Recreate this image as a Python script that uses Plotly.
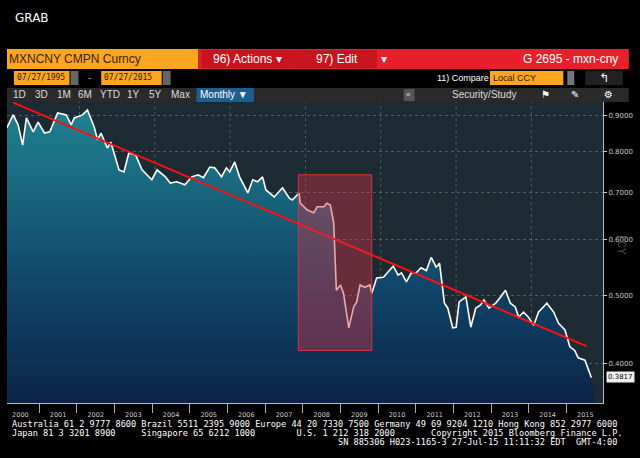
import numpy as np
import plotly.graph_objects as go

# MXN/CNY monthly close (decimal year, rate)
dates = [2000.14, 2000.31, 2000.44, 2000.56, 2000.66, 2000.84, 2000.97, 2001.14, 2001.28, 2001.49,
         2001.72, 2001.85, 2001.93, 2002.15, 2002.28, 2002.46, 2002.55, 2002.64, 2002.81, 2002.90,
         2003.12, 2003.25, 2003.38, 2003.56, 2003.73, 2003.99, 2004.13, 2004.35, 2004.48, 2004.65,
         2004.87, 2005.05, 2005.22, 2005.36, 2005.53, 2005.66, 2005.84, 2005.97, 2006.06, 2006.19,
         2006.32, 2006.54, 2006.67, 2006.80, 2006.93, 2007.02, 2007.24, 2007.46, 2007.64, 2007.72,
         2007.90, 2007.93, 2008.12, 2008.29, 2008.38, 2008.56, 2008.64, 2008.73, 2008.82, 2008.89,
         2009.00, 2009.08, 2009.22, 2009.35, 2009.43, 2009.52, 2009.65, 2009.78, 2009.83, 2009.96,
         2010.14, 2010.40, 2010.53, 2010.62, 2010.75, 2010.88, 2011.01, 2011.14, 2011.28, 2011.41,
         2011.54, 2011.63, 2011.76, 2011.85, 2011.98, 2012.07, 2012.15, 2012.33, 2012.46, 2012.59,
         2012.72, 2012.81, 2012.94, 2013.12, 2013.25, 2013.38, 2013.51, 2013.64, 2013.73, 2013.86,
         2013.99, 2014.13, 2014.26, 2014.48, 2014.66, 2014.79, 2014.96, 2015.09, 2015.22, 2015.31,
         2015.49, 2015.66]
rates = [0.865, 0.903, 0.874, 0.818, 0.894, 0.854, 0.882, 0.851, 0.854, 0.909,
         0.903, 0.874, 0.894, 0.903, 0.918, 0.868, 0.832, 0.851, 0.810, 0.826,
         0.754, 0.749, 0.797, 0.792, 0.754, 0.730, 0.754, 0.737, 0.722, 0.725,
         0.718, 0.737, 0.742, 0.735, 0.761, 0.759, 0.737, 0.759, 0.749, 0.774,
         0.737, 0.699, 0.730, 0.725, 0.737, 0.706, 0.690, 0.711, 0.687, 0.683,
         0.699, 0.676, 0.661, 0.655, 0.668, 0.668, 0.676, 0.672, 0.633, 0.508,
         0.517, 0.503, 0.449, 0.481, 0.489, 0.517, 0.513, 0.517, 0.503, 0.529,
         0.530, 0.550, 0.534, 0.538, 0.522, 0.538, 0.538, 0.547, 0.542, 0.566,
         0.548, 0.555, 0.487, 0.479, 0.449, 0.450, 0.489, 0.497, 0.450, 0.479,
         0.484, 0.492, 0.479, 0.487, 0.497, 0.508, 0.487, 0.481, 0.465, 0.473,
         0.465, 0.453, 0.473, 0.487, 0.473, 0.456, 0.446, 0.422, 0.417, 0.407,
         0.404, 0.3817]

trend_x = [2000.31, 2015.53]
trend_y = [0.940, 0.423]

box_x = [2007.88, 2009.83]
box_y = [0.417, 0.742]

years = list(range(2000, 2016))
y_ticks = [0.4, 0.5, 0.6, 0.7, 0.8, 0.9]

X0, X1 = 2000.145, 2015.97
Y0, Y1 = 0.351, 0.942

fig = go.Figure()
fig.add_trace(go.Scatter(x=[X0, X1], y=[0.3, 0.3], mode="lines",
                         line=dict(width=0), hoverinfo="skip", showlegend=False))
fig.add_trace(go.Scatter(x=dates, y=rates, mode="lines", fill="tonexty",
                         line=dict(color="white", width=1.6),
                         fillgradient=dict(type="vertical",
                                           colorscale=[[0, "#0a1638"], [0.45, "#0f4266"], [1, "#1f8290"]]),
                         showlegend=False))
fig.add_trace(go.Scatter(x=trend_x, y=trend_y, mode="lines",
                         line=dict(color="#ff1010", width=2), showlegend=False))
fig.add_trace(go.Scatter(x=[box_x[0], box_x[1], box_x[1], box_x[0], box_x[0]],
                         y=[box_y[0], box_y[0], box_y[1], box_y[1], box_y[0]],
                         mode="lines", fill="toself", fillcolor="rgba(210,50,70,0.42)",
                         line=dict(color="rgba(230,50,60,0.9)", width=1), showlegend=False))

fig.update_xaxes(range=[X0, X1], tickvals=[y + 0.5 for y in years],
                 ticktext=[str(y) for y in years], ticks="", showgrid=False,
                 tickfont=dict(size=6.5, color="#cccccc", family="DejaVu Sans"),
                 ticklabelstandoff=5, zeroline=False, showline=True, linecolor="#bbbbbb",
                 minor=dict(tickvals=years[1:], ticks="outside", ticklen=9,
                            tickcolor="#aaaaaa", showgrid=False))
fig.update_yaxes(type="log", range=[np.log10(Y0), np.log10(Y1)], side="right",
                 tickvals=y_ticks, ticktext=[f"{v:.4f}" for v in y_ticks],
                 tickfont=dict(size=7, color="#cccccc", family="DejaVu Sans"),
                 ticks="outside", ticklen=3, tickcolor="#cccccc",
                 showgrid=True, gridcolor="rgba(150,150,150,0.45)", griddash="dot",
                 showline=True, linecolor="#bbbbbb", zeroline=False)

# vertical dotted grid (every two years)
for gx in [2002.07, 2004.07, 2006.07, 2008.07, 2010.07, 2012.07, 2014.07]:
    fig.add_shape(type="line", xref="x", yref="paper", x0=gx, x1=gx, y0=0, y1=1,
                  line=dict(color="rgba(150,150,150,0.4)", width=1, dash="dot"), layer="below")


def px(x):
    return (x - 7) / 601


def py(y):
    return (403 - y) / 301


def rect(x0, y0, x1, y1, color):
    fig.add_shape(type="rect", xref="paper", yref="paper", x0=px(x0), x1=px(x1),
                  y0=py(y1), y1=py(y0), fillcolor=color, line=dict(width=0))


def text(x, y, s, color="white", size=11, anchor="left", font="Liberation Sans", angle=0):
    fig.add_annotation(xref="paper", yref="paper", x=px(x), y=py(y), text=s,
                       showarrow=False, xanchor=anchor, yanchor="middle", textangle=angle,
                       font=dict(color=color, size=size, family=font), borderpad=0)


text(14, 18, "GRAB", size=12, font="DejaVu Sans")

# row 1
rect(7, 49, 200, 69, "#ffa620")
rect(200, 49, 634, 69, "#e8202c")
rect(203, 50, 292, 68, "#c8141e")
rect(292, 50, 380, 68, "#c8141e")
text(8, 59, "MXNCNY CMPN Curncy", color="#3a2000", size=12)
text(214, 59, "96) Actions ▾", size=12)
text(318, 59, "97) Edit       ▾", size=12)
text(624, 59, "G 2695 - mxn-cny", size=12, anchor="right")

# row 2
rect(14, 71, 70, 85, "#ffa620")
rect(71, 71, 79, 85, "#666666")
rect(102, 71, 163, 85, "#ffa620")
rect(164, 71, 172, 85, "#666666")
rect(494, 71, 568, 85, "#ffa620")
rect(572, 71, 579, 85, "#777777")
rect(590, 71, 628, 85, "#222222")
text(16, 78, "07/27/1995", color="#2a1500", size=8, font="DejaVu Sans Mono")
text(90, 78, "-", color="#cccccc", size=9, anchor="center")
text(104, 78, "07/27/2015", color="#2a1500", size=8, font="DejaVu Sans Mono")
text(440, 78, "11) Compare", size=9)
text(496, 78, "Local CCY", color="#2a1500", size=9)
text(609, 78, "↰", size=12, anchor="center", font="DejaVu Sans")

# row 3
rect(7, 88, 634, 102, "#2a2a2a")
rect(198, 88, 256, 102, "#1f5d8c")
rect(407, 89, 418, 101, "#555555")
x = 12
for lab in ["1D", "3D", "1M", "6M", "YTD", "1Y", "5Y", "Max"]:
    text(x, 95, lab, color="#dddddd", size=10)
    x += 12 + 5 * len(lab)
text(201, 95, "Monthly ▼", size=10)
text(412, 95, "«", color="#dddddd", size=8, anchor="center")
text(455, 95, "Security/Study", color="#dddddd", size=10)
text(550, 95, "⚑", size=10, anchor="center", font="DejaVu Sans")
text(580, 95, "✎", size=10, anchor="center", font="DejaVu Sans")
text(614, 95, "⚙", size=10, anchor="center", font="DejaVu Sans")

# right side labels
text(627, 245, "LCY", color="#555555", size=10, anchor="center", angle=90)
fig.add_annotation(xref="paper", yref="y", x=px(611), y=np.log10(rates[-1]),
                   text=f"{rates[-1]:.4f}", showarrow=False, xanchor="left",
                   font=dict(size=7, color="black", family="DejaVu Sans"),
                   bgcolor="#f0f0f0", borderpad=1)

# footer
mono = "DejaVu Sans Mono"
text(11, 424, "Australia 61 2 9777 8600 Brazil 5511 2395 9000 Europe 44 20 7330 7500 Germany 49 69 9204 1210 Hong Kong 852 2977 6000",
     size=8.6, font=mono)
text(11, 433, "Japan 81 3 3201 8900     Singapore 65 6212 1000        U.S. 1 212 318 2000       Copyright 2015 Bloomberg Finance L.P.",
     size=8.6, font=mono)
text(623, 442, "SN 885306 H023-1165-3 27-Jul-15 11:11:32 EDT  GMT-4:00", size=8.6, font=mono, anchor="right")

fig.update_layout(width=640, height=458, margin=dict(l=7, r=32, t=102, b=55),
                  paper_bgcolor="black", plot_bgcolor="#1c2a33")
fig.write_html("out.html", config={"displayModeBar": False},
               post_script="document.body.style.margin='0';")
